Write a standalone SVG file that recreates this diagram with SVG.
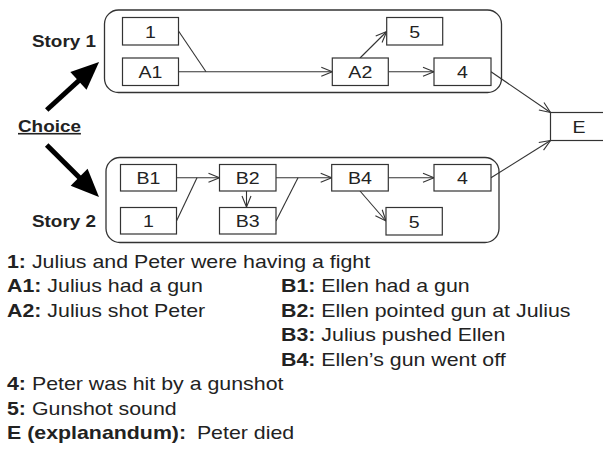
<svg xmlns="http://www.w3.org/2000/svg" width="603" height="470" viewBox="0 0 603 470">
<style>
  .story { fill: none; stroke: #333; stroke-width: 1.3; }
  .box { fill: #fff; stroke: #333; stroke-width: 1.2; }
  .lbl { font-family: "Liberation Sans", Arial, sans-serif; font-size: 17px; fill: #222; text-anchor: middle; }
  .side { font-family: "Liberation Sans", Arial, sans-serif; font-size: 16px; font-weight: bold; fill: #222; }
  .leg { font-family: "Liberation Sans", Arial, sans-serif; font-size: 17.5px; fill: #222; }
  .b { font-weight: bold; }
  .con { stroke: #333; stroke-width: 1.1; fill: none; }
  .arr { marker-end: url(#open); }
  .thick { stroke: #000; stroke-width: 5; fill: none; marker-end: url(#big); }
</style>
<defs>
  <marker id="open" markerUnits="userSpaceOnUse" markerWidth="14" markerHeight="12" refX="11" refY="4.5" orient="auto" overflow="visible">
    <path d="M0,0 L11,4.5 L0,9" fill="none" stroke="#333" stroke-width="1.1"/>
  </marker>
  <marker id="big" markerUnits="userSpaceOnUse" markerWidth="30" markerHeight="26" refX="18" refY="12" orient="auto" overflow="visible">
    <path d="M0,0 L28,12 L0,24 Z" fill="#000"/>
  </marker>
</defs>

<g id="story1"><rect class="story" x="104.5" y="10" width="397" height="82.5" rx="14" ry="14"/></g>
<g id="story2"><rect class="story" x="106" y="157.5" width="393" height="85" rx="14" ry="14"/></g>

<g id="labels">
  <text class="side" transform="translate(32 47) scale(1.18 1)">Story 1</text>
  <text class="side" transform="translate(32 227) scale(1.18 1)">Story 2</text>
  <text class="side" transform="translate(18 132) scale(1.18 1)" text-decoration="underline">Choice</text>
</g>

<g id="connectors">
  <line class="thick" x1="46.7" y1="110" x2="91.7" y2="68.8"/>
  <line class="thick" x1="46.7" y1="145" x2="91.9" y2="189.9"/>
  <line class="con" x1="178.5" y1="31" x2="206" y2="71.75"/>
  <line class="con arr" x1="178.5" y1="71.75" x2="332.3" y2="71.75"/>
  <line class="con arr" x1="360" y1="58" x2="386.7" y2="31.5"/>
  <line class="con arr" x1="388.5" y1="71.75" x2="434" y2="71.75"/>
  <line class="con arr" x1="491" y1="71.75" x2="550.5" y2="112.5"/>
  <line class="con arr" x1="176.5" y1="177.75" x2="219.5" y2="177.75"/>
  <line class="con" x1="176.5" y1="221" x2="197" y2="177.75"/>
  <line class="con arr" x1="246.5" y1="191" x2="246.5" y2="207"/>
  <line class="con arr" x1="276" y1="177.75" x2="331.7" y2="177.75"/>
  <line class="con" x1="276" y1="221" x2="298" y2="177.75"/>
  <line class="con arr" x1="388.3" y1="177.75" x2="434" y2="177.75"/>
  <line class="con arr" x1="360" y1="191" x2="386" y2="221"/>
  <line class="con arr" x1="491" y1="177.75" x2="550.5" y2="140.5"/>
</g>

<g id="n1a"><rect class="box" x="122.5" y="17.5" width="56" height="27.5"/><text class="lbl" transform="translate(150.5 37.5) scale(1.15 1)">1</text></g>
<g id="nA1"><rect class="box" x="122.5" y="58" width="56" height="27.5"/><text class="lbl" transform="translate(150.5 78) scale(1.15 1)">A1</text></g>
<g id="nA2"><rect class="box" x="332.3" y="58" width="56" height="27.5"/><text class="lbl" transform="translate(360.3 78) scale(1.15 1)">A2</text></g>
<g id="n5a"><rect class="box" x="386.7" y="17.5" width="56" height="27.5"/><text class="lbl" transform="translate(414.7 37.5) scale(1.15 1)">5</text></g>
<g id="n4a"><rect class="box" x="434" y="58" width="57" height="27.5"/><text class="lbl" transform="translate(462.5 78) scale(1.15 1)">4</text></g>
<g id="nE"><rect class="box" x="550.5" y="112.5" width="60" height="28"/><text class="lbl" transform="translate(579 133) scale(1.15 1)">E</text></g>
<g id="nB1"><rect class="box" x="120.5" y="164.5" width="56" height="26.5"/><text class="lbl" transform="translate(148.5 184) scale(1.15 1)">B1</text></g>
<g id="n1b"><rect class="box" x="120.5" y="207.5" width="56" height="26.5"/><text class="lbl" transform="translate(148.5 227) scale(1.15 1)">1</text></g>
<g id="nB2"><rect class="box" x="219.5" y="164.5" width="56.5" height="26.5"/><text class="lbl" transform="translate(247.75 184) scale(1.15 1)">B2</text></g>
<g id="nB3"><rect class="box" x="219.5" y="207.5" width="56.5" height="26.5"/><text class="lbl" transform="translate(247.75 227) scale(1.15 1)">B3</text></g>
<g id="nB4"><rect class="box" x="331.7" y="164.5" width="56.6" height="26.5"/><text class="lbl" transform="translate(360 184) scale(1.15 1)">B4</text></g>
<g id="n4b"><rect class="box" x="434" y="164.5" width="57" height="26.5"/><text class="lbl" transform="translate(462.5 184) scale(1.15 1)">4</text></g>
<g id="n5b"><rect class="box" x="386" y="207.5" width="56.3" height="27.5"/><text class="lbl" transform="translate(414.15 227.5) scale(1.15 1)">5</text></g>

<g id="legend">
  <text class="leg" transform="translate(7 267.5) scale(1.22 1)"><tspan class="b">1:</tspan> Julius and Peter were having a fight</text>
  <text class="leg" transform="translate(7 292) scale(1.22 1)"><tspan class="b">A1:</tspan> Julius had a gun</text>
  <text class="leg" transform="translate(281 292) scale(1.22 1)"><tspan class="b">B1:</tspan> Ellen had a gun</text>
  <text class="leg" transform="translate(7 316.5) scale(1.22 1)"><tspan class="b">A2:</tspan> Julius shot Peter</text>
  <text class="leg" transform="translate(281 316.5) scale(1.22 1)"><tspan class="b">B2:</tspan> Ellen pointed gun at Julius</text>
  <text class="leg" transform="translate(281 341) scale(1.22 1)"><tspan class="b">B3:</tspan> Julius pushed Ellen</text>
  <text class="leg" transform="translate(281 365.5) scale(1.22 1)"><tspan class="b">B4:</tspan> Ellen’s gun went off</text>
  <text class="leg" transform="translate(7 390) scale(1.22 1)"><tspan class="b">4:</tspan> Peter was hit by a gunshot</text>
  <text class="leg" transform="translate(7 414.5) scale(1.22 1)"><tspan class="b">5:</tspan> Gunshot sound</text>
  <text class="leg" transform="translate(7 439) scale(1.22 1)"><tspan class="b">E (explanandum):</tspan><tspan dx="4"> Peter died</tspan></text>
</g>
</svg>
